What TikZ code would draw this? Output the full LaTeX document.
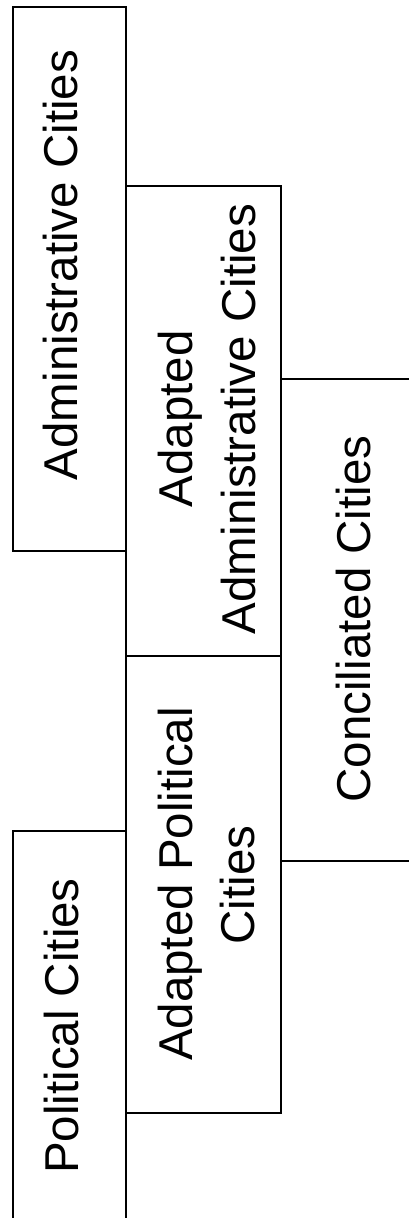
\documentclass[tikz,border=0pt]{standalone}
\usepackage{fontspec}
\setmainfont{Liberation Sans}
\begin{document}
\begin{tikzpicture}[x=1pt,y=-1pt,
  edge/.style={line width=1.8pt, line cap=rect},
  lbl/.style={rotate=90, anchor=base, inner sep=0pt, font=\fontsize{47.5}{57}\selectfont}]
\useasboundingbox (0,0) rectangle (408,1218);
% boxes
\draw[edge] (13,7) rectangle (126,551);
\draw[edge] (126,186) rectangle (281,656);
\draw[edge] (126,656) rectangle (281,1113);
\draw[edge] (13,1230) -- (13,831) -- (126,831) -- (126,1230);
\draw[edge] (281,379) -- (420,379);
\draw[edge] (281,861) -- (420,861);
% labels
\node[lbl] (admin) at (77,265) {Administrative Cities};
\node[lbl] (aadm1) at (192,419) {Adapted};
\node[lbl] (aadm2) at (255,419) {Administrative Cities};
\node[lbl] (apol1) at (192,884) {Adapted Political};
\node[lbl] (apol2) at (254,885) {Cities};
\node[lbl] (conc) at (370,619) {Conciliated Cities};
\node[lbl] (pol) at (78,1026) {Political Cities};
\end{tikzpicture}
\end{document}
